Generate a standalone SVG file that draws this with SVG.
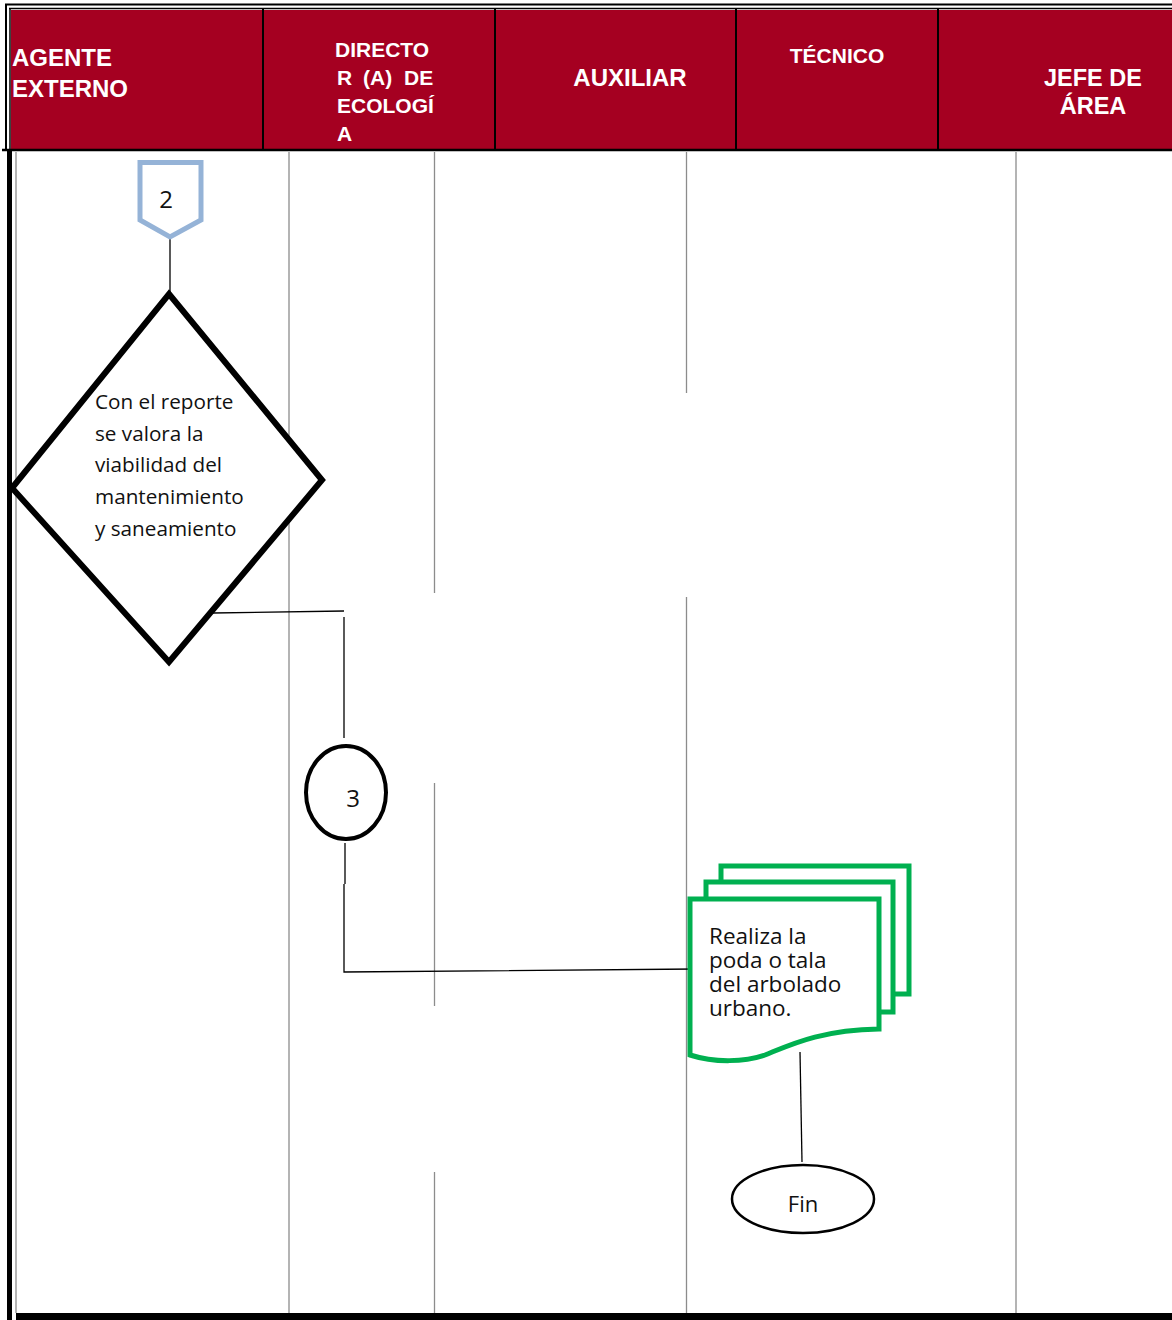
<svg xmlns="http://www.w3.org/2000/svg" width="1172" height="1320" viewBox="0 0 1172 1320">
<style>
.hdr{font-family:"Liberation Sans",Arial,sans-serif;font-weight:bold;fill:#fff}
.body{font-family:"Open Sans","Noto Sans",sans-serif;fill:#111}
.lane{stroke:#8c8c8c;stroke-width:1.3;fill:none}
.conn{stroke:#000;stroke-width:1.3;fill:none}
.div{stroke:#000;stroke-width:2}
</style>
<rect width="1172" height="1320" fill="#fff"/>
<g id="header">
<rect x="11" y="10" width="1161" height="139" fill="#A50021"/>
<line x1="5" y1="4.5" x2="1172" y2="4.5" stroke="#000" stroke-width="2"/>
<line x1="9" y1="8.5" x2="1172" y2="8.5" stroke="#000" stroke-width="1.5"/>
<line x1="6" y1="4" x2="6" y2="150" stroke="#000" stroke-width="2"/>
<line x1="10" y1="8" x2="10" y2="150" stroke="#000" stroke-width="1.5"/>
<line x1="2" y1="150" x2="1172" y2="150" stroke="#000" stroke-width="2.5"/>
<line class="div" x1="263" y1="9" x2="263" y2="150"/>
<line class="div" x1="495" y1="9" x2="495" y2="150"/>
<line class="div" x1="736" y1="9" x2="736" y2="150"/>
<line class="div" x1="938" y1="9" x2="938" y2="150"/>
<text class="hdr" font-size="24" x="12" y="66">AGENTE</text>
<text class="hdr" font-size="24" x="12" y="97">EXTERNO</text>
<text class="hdr" font-size="21" x="335" y="57">DIRECTO</text>
<text class="hdr" font-size="21" y="85"><tspan x="337">R</tspan> <tspan x="363">(A)</tspan> <tspan x="404">DE</tspan></text>
<text class="hdr" font-size="21" x="337" y="113">ECOLOGÍ</text>
<text class="hdr" font-size="21" x="337" y="141">A</text>
<text class="hdr" font-size="24" x="630" y="86" text-anchor="middle">AUXILIAR</text>
<text class="hdr" font-size="21" x="837" y="63" text-anchor="middle">TÉCNICO</text>
<text class="hdr" font-size="23.5" x="1093" y="86" text-anchor="middle">JEFE DE</text>
<text class="hdr" font-size="23.5" x="1093" y="114" text-anchor="middle">ÁREA</text>
</g>
<g id="lanes">
<rect x="7" y="150" width="5" height="1170" fill="#000"/>
<line class="lane" x1="16" y1="152" x2="16" y2="1313"/>
<line class="lane" x1="289" y1="152" x2="289" y2="1320"/>
<line class="lane" x1="434.5" y1="152" x2="434.5" y2="593"/>
<line class="lane" x1="434.5" y1="783" x2="434.5" y2="1006"/>
<line class="lane" x1="434.5" y1="1172" x2="434.5" y2="1320"/>
<line class="lane" x1="686.5" y1="152" x2="686.5" y2="393"/>
<line class="lane" x1="686.5" y1="597" x2="686.5" y2="1320"/>
<line class="lane" x1="1016" y1="152" x2="1016" y2="1320"/>
<rect x="16" y="1313" width="1156" height="7" fill="#000"/>
</g>
<g id="connectors">
<line class="conn" x1="170" y1="237" x2="170" y2="293" stroke-width="2"/>
<polyline class="conn" points="213,613 344,611"/>
<line class="conn" x1="344" y1="617" x2="344" y2="738"/>
<line class="conn" x1="345" y1="843" x2="345" y2="884" stroke-width="2"/>
<polyline class="conn" points="344,884 344,972 696,969"/>
<line class="conn" x1="800" y1="1052" x2="802" y2="1162"/>
</g>
<g id="node-offpage-2">
<polygon points="140,162.5 201,162.5 201,220 170,237 140,220" fill="#fff" stroke="#95B3D7" stroke-width="5"/>
<text class="body" font-size="24" x="166" y="208" text-anchor="middle">2</text>
</g>
<g id="node-decision">
<polygon points="169,294 322,480 169,662 12,488" fill="#fff" stroke="#000" stroke-width="6" stroke-linejoin="miter"/>
<text class="body" font-size="20.7" x="95" y="409">Con el reporte</text>
<text class="body" font-size="20.7" x="95" y="441">se valora la</text>
<text class="body" font-size="20.7" x="95" y="472">viabilidad del</text>
<text class="body" font-size="20.7" x="95" y="504">mantenimiento</text>
<text class="body" font-size="20.7" x="95" y="536">y saneamiento</text>
</g>
<g id="node-connector-3">
<ellipse cx="346" cy="792.5" rx="40" ry="46.5" fill="#fff" stroke="#000" stroke-width="4"/>
<text class="body" font-size="24" x="353" y="807" text-anchor="middle">3</text>
</g>
<g id="node-documents">
<rect x="721" y="866" width="188" height="128" fill="#fff" stroke="#00B050" stroke-width="5"/>
<rect x="706" y="882" width="187" height="130" fill="#fff" stroke="#00B050" stroke-width="5"/>
<path d="M690,899 H879 V1029 C820,1030 790,1045 765,1055 C745,1062 715,1063 690,1055 Z" fill="#fff" stroke="#00B050" stroke-width="5"/>
<text class="body" font-size="22.5" x="709" y="944">Realiza la</text>
<text class="body" font-size="22.5" x="709" y="968">poda o tala</text>
<text class="body" font-size="22.5" x="709" y="992">del arbolado</text>
<text class="body" font-size="22.5" x="709" y="1016">urbano.</text>
</g>
<g id="node-fin">
<ellipse cx="803" cy="1199" rx="71" ry="34" fill="#fff" stroke="#000" stroke-width="2.5"/>
<text class="body" font-size="22" x="803" y="1212" text-anchor="middle">Fin</text>
</g>
</svg>
